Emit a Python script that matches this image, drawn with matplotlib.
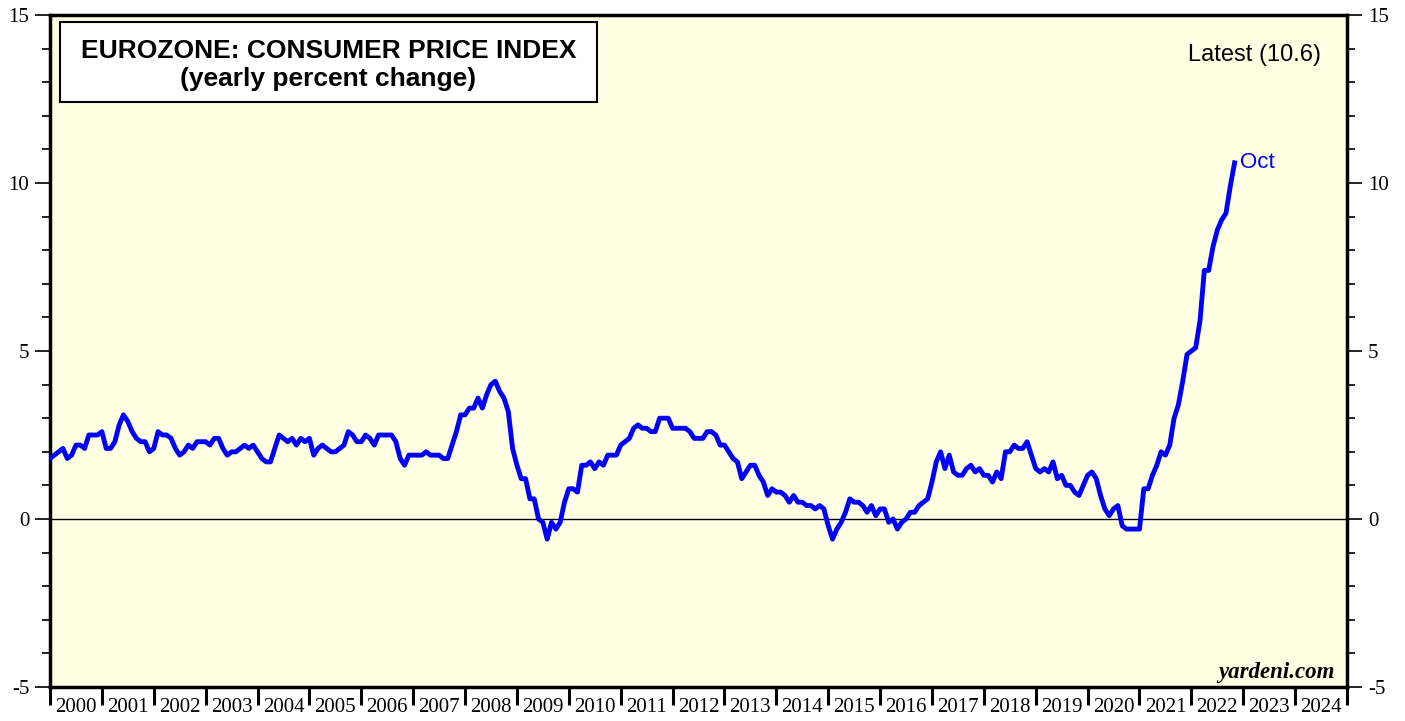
import matplotlib
matplotlib.use('Agg')
import matplotlib.pyplot as plt
import numpy as np
from matplotlib.patches import Rectangle
from matplotlib.ticker import MultipleLocator, FixedLocator, NullFormatter

plt.rcParams['axes.unicode_minus'] = False

# Eurozone CPI, yearly % change, monthly (plotted at month end)
cpi_1999 = [1.8]  # Dec
cpi_2000 = [1.9, 2.0, 2.1, 1.8, 1.9, 2.2, 2.2, 2.1, 2.5, 2.5, 2.5, 2.6]
cpi_2001 = [2.1, 2.1, 2.3, 2.8, 3.1, 2.9, 2.6, 2.4, 2.3, 2.3, 2.0, 2.1]
cpi_2002 = [2.6, 2.5, 2.5, 2.4, 2.1, 1.9, 2.0, 2.2, 2.1, 2.3, 2.3, 2.3]
cpi_2003 = [2.2, 2.4, 2.4, 2.1, 1.9, 2.0, 2.0, 2.1, 2.2, 2.1, 2.2, 2.0]
cpi_2004 = [1.8, 1.7, 1.7, 2.1, 2.5, 2.4, 2.3, 2.4, 2.2, 2.4, 2.3, 2.4]
cpi_2005 = [1.9, 2.1, 2.2, 2.1, 2.0, 2.0, 2.1, 2.2, 2.6, 2.5, 2.3, 2.3]
cpi_2006 = [2.5, 2.4, 2.2, 2.5, 2.5, 2.5, 2.5, 2.3, 1.8, 1.6, 1.9, 1.9]
cpi_2007 = [1.9, 1.9, 2.0, 1.9, 1.9, 1.9, 1.8, 1.8, 2.2, 2.6, 3.1, 3.1]
cpi_2008 = [3.3, 3.3, 3.6, 3.3, 3.7, 4.0, 4.1, 3.8, 3.6, 3.2, 2.1, 1.6]
cpi_2009 = [1.2, 1.2, 0.6, 0.6, 0.0, -0.1, -0.6, -0.1, -0.3, -0.1, 0.5, 0.9]
cpi_2010 = [0.9, 0.8, 1.6, 1.6, 1.7, 1.5, 1.7, 1.6, 1.9, 1.9, 1.9, 2.2]
cpi_2011 = [2.3, 2.4, 2.7, 2.8, 2.7, 2.7, 2.6, 2.6, 3.0, 3.0, 3.0, 2.7]
cpi_2012 = [2.7, 2.7, 2.7, 2.6, 2.4, 2.4, 2.4, 2.6, 2.6, 2.5, 2.2, 2.2]
cpi_2013 = [2.0, 1.8, 1.7, 1.2, 1.4, 1.6, 1.6, 1.3, 1.1, 0.7, 0.9, 0.8]
cpi_2014 = [0.8, 0.7, 0.5, 0.7, 0.5, 0.5, 0.4, 0.4, 0.3, 0.4, 0.3, -0.2]
cpi_2015 = [-0.6, -0.3, -0.1, 0.2, 0.6, 0.5, 0.5, 0.4, 0.2, 0.4, 0.1, 0.3]
cpi_2016 = [0.3, -0.1, 0.0, -0.3, -0.1, 0.0, 0.2, 0.2, 0.4, 0.5, 0.6, 1.1]
cpi_2017 = [1.7, 2.0, 1.5, 1.9, 1.4, 1.3, 1.3, 1.5, 1.6, 1.4, 1.5, 1.3]
cpi_2018 = [1.3, 1.1, 1.4, 1.2, 2.0, 2.0, 2.2, 2.1, 2.1, 2.3, 1.9, 1.5]
cpi_2019 = [1.4, 1.5, 1.4, 1.7, 1.2, 1.3, 1.0, 1.0, 0.8, 0.7, 1.0, 1.3]
cpi_2020 = [1.4, 1.2, 0.7, 0.3, 0.1, 0.3, 0.4, -0.2, -0.3, -0.3, -0.3, -0.3]
cpi_2021 = [0.9, 0.9, 1.3, 1.6, 2.0, 1.9, 2.2, 3.0, 3.4, 4.1, 4.9, 5.0]
cpi_2022 = [5.1, 5.9, 7.4, 7.4, 8.1, 8.6, 8.9, 9.1, 9.9, 10.6]  # to Oct

years = list(range(2000, 2025))
latest = 10.6

cpi = (cpi_1999 + cpi_2000 + cpi_2001 + cpi_2002 + cpi_2003 + cpi_2004 + cpi_2005
       + cpi_2006 + cpi_2007 + cpi_2008 + cpi_2009 + cpi_2010 + cpi_2011 + cpi_2012
       + cpi_2013 + cpi_2014 + cpi_2015 + cpi_2016 + cpi_2017 + cpi_2018 + cpi_2019
       + cpi_2020 + cpi_2021 + cpi_2022)
cpi = np.array(cpi)
# Dec 1999 month-end sits on 2000.0
x = 2000 + np.arange(len(cpi)) / 12.0

fig = plt.figure(figsize=(14.05, 7.21), dpi=100)
ax = fig.add_axes([50 / 1405, 1 - 687 / 721, 1297 / 1405, 672 / 721])
ax.set_facecolor('#FFFFE3')

ax.axhline(0, color='black', lw=1, zorder=2)
ax.plot(x, cpi, color='#0000FF', lw=3.5, solid_joinstyle='round', zorder=3)

ax.set_xlim(2000, 2025)
ax.set_ylim(-5, 15)

for s in ax.spines.values():
    s.set_linewidth(2.5)

# y axis, both sides
ax.yaxis.set_major_locator(MultipleLocator(5))
ax.yaxis.set_minor_locator(MultipleLocator(1))
ax.tick_params(axis='y', which='both', left=True, right=True,
               labelleft=True, labelright=True, direction='out')
ax.tick_params(axis='y', which='major', length=11, width=1.2, pad=4,
               labelsize=15)
ax.tick_params(axis='y', which='minor', length=6, width=1.2)
for lab in ax.get_yticklabels():
    lab.set_fontfamily('Liberation Serif')

# x axis: ticks on year boundaries, labels centred in each year
ax.xaxis.set_major_locator(FixedLocator(np.arange(2000, 2026)))
ax.xaxis.set_major_formatter(NullFormatter())
ax.xaxis.set_minor_locator(FixedLocator(np.array(years) + 0.5))
ax.set_xticklabels([str(y) for y in years], minor=True,
                   fontfamily='Liberation Serif', fontsize=15)
ax.tick_params(axis='x', which='major', direction='out', length=13, width=2.2)
ax.tick_params(axis='x', which='minor', length=0, pad=8)

# title box
ax.add_patch(Rectangle((0.0077, 0.8705), 0.414, 0.119, transform=ax.transAxes,
                       facecolor='white', edgecolor='black', lw=1.5, zorder=4))
ax.text(0.2147, 0.947, 'EUROZONE: CONSUMER PRICE INDEX', transform=ax.transAxes,
        ha='center', va='center', fontsize=19, fontweight='bold',
        fontfamily='Liberation Sans', zorder=5)
ax.text(0.2147, 0.905, '(yearly percent change)', transform=ax.transAxes,
        ha='center', va='center', fontsize=19, fontweight='bold',
        fontfamily='Liberation Sans', zorder=5)

ax.text(0.98, 0.9405, 'Latest (%.1f)' % latest, transform=ax.transAxes,
        ha='right', va='center', fontsize=17, fontfamily='Liberation Sans')

ax.annotate('Oct', xy=(x[-1], cpi[-1]), xytext=(4, 0), textcoords='offset points',
            ha='left', va='center', color='#0000FF', fontsize=16,
            fontfamily='Liberation Sans')

ax.text(0.9907, 0.022, 'yardeni.com', transform=ax.transAxes, ha='right',
        va='center', fontsize=16.5, fontweight='bold', fontstyle='italic',
        fontfamily='Liberation Serif')

fig.savefig('out.png', dpi=100)
